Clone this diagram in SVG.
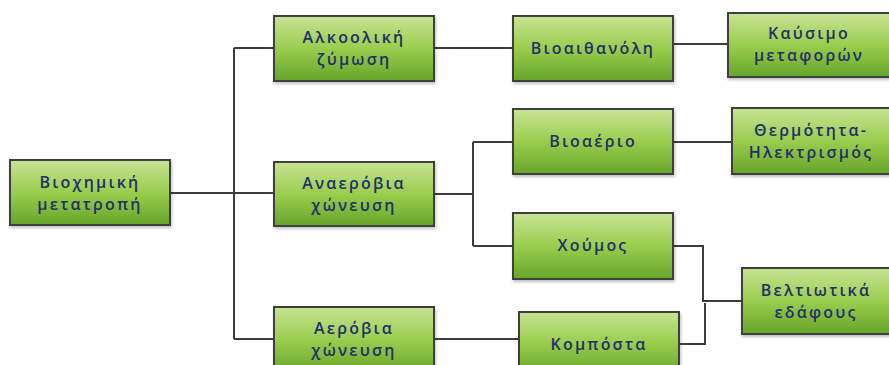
<svg xmlns="http://www.w3.org/2000/svg" width="889" height="365" viewBox="0 0 889 365">
<defs>
<linearGradient id="g" x1="0" y1="0" x2="0" y2="1">
<stop offset="0" stop-color="#c8e394"/>
<stop offset="0.5" stop-color="#9acd4e"/>
<stop offset="1" stop-color="#66a52a"/>
</linearGradient>
<filter id="sh" x="-10%" y="-10%" width="125%" height="130%">
<feDropShadow dx="1" dy="2" stdDeviation="1.5" flood-color="#000" flood-opacity="0.25"/>
</filter>
</defs>
<style>
.box{fill:url(#g);stroke:#3c3f3a;stroke-width:2;filter:url(#sh)}
.t{font-family:"Open Sans","DejaVu Sans",sans-serif;font-size:16px;font-weight:600;fill:#22306a;text-anchor:middle;letter-spacing:2.2px}
.c{fill:none;stroke:#3c3c3c;stroke-width:2}
</style>
<rect width="889" height="365" fill="#ffffff"/>
<g id="connectors">
<path class="c" d="M170 193H234M234 48V339M234 48H274M234 193H274M234 339H274"/>
<path class="c" d="M434 48H513"/>
<path class="c" d="M673 44H728"/>
<path class="c" d="M434 194H473M473 142V246M473 142H513M473 246H513"/>
<path class="c" d="M673 142H732"/>
<path class="c" d="M434 339H519"/>
<path class="c" d="M673 246H703V301H742M679 344H705V303"/>
</g>
<g id="n1"><rect class="box" x="10" y="160" width="160" height="65"/><text class="t" x="90" y="188">Βιοχημική</text><text class="t" x="90" y="210">μετατροπή</text></g>
<g id="n2"><rect class="box" x="274" y="16" width="160" height="65"/><text class="t" x="354" y="43">Αλκοολική</text><text class="t" x="354" y="65">ζύμωση</text></g>
<g id="n3"><rect class="box" x="274" y="162" width="160" height="64"/><text class="t" x="354" y="189">Αναερόβια</text><text class="t" x="354" y="211">χώνευση</text></g>
<g id="n4"><rect class="box" x="274" y="307" width="160" height="66"/><text class="t" x="354" y="334">Αερόβια</text><text class="t" x="354" y="356">χώνευση</text></g>
<g id="n5"><rect class="box" x="513" y="16" width="160" height="65"/><text class="t" x="593" y="54">Βιοαιθανόλη</text></g>
<g id="n6"><rect class="box" x="728" y="13" width="162" height="64"/><text class="t" x="809" y="39">Καύσιμο</text><text class="t" x="809" y="61">μεταφορών</text></g>
<g id="n7"><rect class="box" x="513" y="109" width="160" height="65"/><text class="t" x="593" y="147">Βιοαέριο</text></g>
<g id="n8"><rect class="box" x="732" y="108" width="158" height="66"/><text class="t" x="811" y="136">Θερμότητα-</text><text class="t" x="811" y="158">Ηλεκτρισμός</text></g>
<g id="n9"><rect class="box" x="513" y="213" width="160" height="66"/><text class="t" x="593" y="251">Χούμος</text></g>
<g id="n10"><rect class="box" x="519" y="312" width="160" height="62"/><text class="t" x="599" y="350">Κομπόστα</text></g>
<g id="n11"><rect class="box" x="742" y="268" width="148" height="66"/><text class="t" x="816" y="296">Βελτιωτικά</text><text class="t" x="816" y="318">εδάφους</text></g>
</svg>
